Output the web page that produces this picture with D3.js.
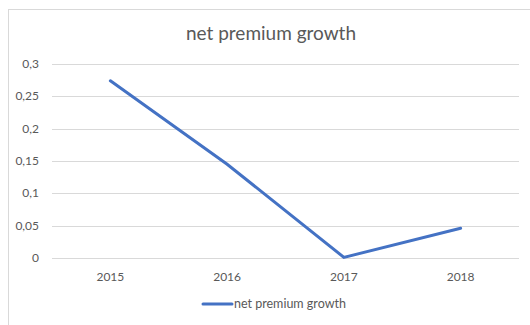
<!DOCTYPE html>
<html>
<head>
<meta charset="utf-8">
<script src="https://cdn.jsdelivr.net/npm/d3@7"></script>
<style>
  body { margin: 0; background: #fff; }
  text { font-family: Lato, "Open Sans", sans-serif; fill: #595959; }
</style>
</head>
<body>
<script>
var width = 530;
var height = 325;
var margin = {top: 64, right: 11, bottom: 67, left: 52};
var w = width - margin.left - margin.right;
var h = height - margin.top - margin.bottom;

var years = ["2015", "2016", "2017", "2018"];
var growth = [0.274, 0.145, 0.001, 0.046];
var yTicks = [0, 0.05, 0.1, 0.15, 0.2, 0.25, 0.3];
var seriesName = "net premium growth";

var svg = d3.select("body").append("svg")
    .attr("width", width)
    .attr("height", height);

// chart frame
svg.append("rect")
    .attr("x", 8.5).attr("y", 9.5)
    .attr("width", 540).attr("height", 340)
    .attr("fill", "none")
    .attr("stroke", "#d9d9d9");

svg.append("text")
    .attr("x", 271).attr("y", 40)
    .attr("text-anchor", "middle")
    .style("font-size", "19px")
    .text("net premium growth");

var chart = svg.append("g")
    .attr("transform", "translate(" + margin.left + "," + margin.top + ")");

var x = d3.scaleBand().domain(years).range([0, w]);
var y = d3.scaleLinear().domain([0, 0.3]).range([h, 0]);

var fmt = function(d) { return String(d).replace(".", ","); };

chart.selectAll(".grid")
    .data(yTicks)
  .enter().append("line")
    .attr("class", "grid")
    .attr("x1", 0).attr("x2", w)
    .attr("y1", function(d) { return Math.round(y(d)) + 0.5; })
    .attr("y2", function(d) { return Math.round(y(d)) + 0.5; })
    .attr("stroke", "#d9d9d9");

chart.selectAll(".ylab")
    .data(yTicks)
  .enter().append("text")
    .attr("class", "ylab")
    .attr("x", -13)
    .attr("y", function(d) { return y(d) + 4; })
    .attr("text-anchor", "end")
    .style("font-size", "12px")
    .text(fmt);

chart.selectAll(".xlab")
    .data(years)
  .enter().append("text")
    .attr("class", "xlab")
    .attr("x", function(d) { return x(d) + x.bandwidth() / 2; })
    .attr("y", h + 23)
    .attr("text-anchor", "middle")
    .style("font-size", "12px")
    .text(function(d) { return d; });

var line = d3.line()
    .x(function(d, i) { return x(years[i]) + x.bandwidth() / 2; })
    .y(function(d) { return y(d); });

chart.append("path")
    .datum(growth)
    .attr("d", line)
    .attr("fill", "none")
    .attr("stroke", "#4472c4")
    .attr("stroke-width", 3)
    .attr("stroke-linecap", "round");

// legend
var legend = svg.append("g").attr("transform", "translate(203,304)");
legend.append("line")
    .attr("x1", 0).attr("x2", 29)
    .attr("stroke", "#4472c4")
    .attr("stroke-width", 3)
    .attr("stroke-linecap", "round");
legend.append("text")
    .attr("x", 31).attr("y", 4)
    .style("font-size", "12.5px")
    .text(seriesName);
</script>
</body>
</html>
